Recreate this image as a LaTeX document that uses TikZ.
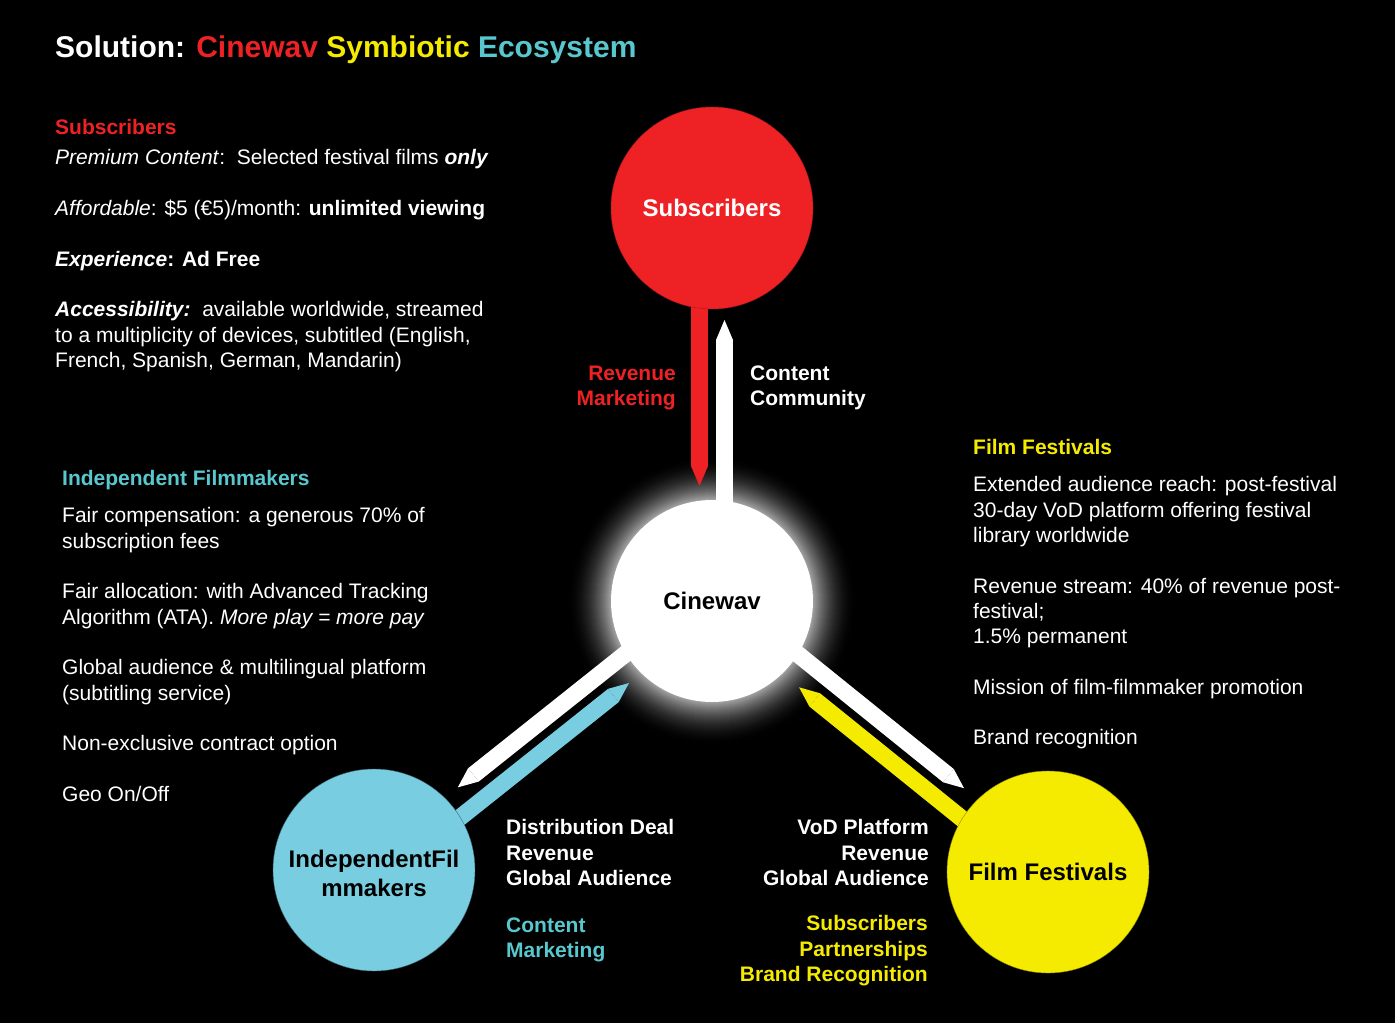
\documentclass[tikz,border=0pt]{standalone}
\usepackage{fontspec}
\setmainfont{Liberation Sans}
\usetikzlibrary{calc,arrows.meta}
\pgfdeclarelayer{backlayer}
\pgfdeclarelayer{barlayer}
\pgfsetlayers{backlayer,barlayer,main}
\definecolor{cinered}{RGB}{238,34,36}
\definecolor{cineyellow}{RGB}{245,235,0}
\definecolor{cinecyan}{RGB}{120,206,224}
\definecolor{cineteal}{RGB}{88,200,206}
\newcommand{\bodyfont}{\fontsize{21}{25.3}\selectfont}
\newcommand{\hubfont}{\fontsize{24}{29}\selectfont\bfseries}
\tikzset{
  hub/.style={circle, minimum size=202pt, inner sep=0pt, font=\hubfont, align=center},
  txt/.style={anchor=north west, inner sep=0pt, align=left, text=white, font=\bodyfont},
  rtxt/.style={txt, anchor=north east, align=right},
  flowbar/.style={line width=17pt, shorten >=115pt, -{Triangle[width=17pt 0,length=20pt 0,line width=0pt]}},
}
\begin{document}
\begin{tikzpicture}[x=1pt,y=-1pt]
\begin{pgfonlayer}{backlayer}
\fill[black] (0,0) rectangle (1395,1023);
\end{pgfonlayer}
\useasboundingbox (0,0) rectangle (1395,1023);

% title
\node[txt, font=\fontsize{30}{36}\selectfont\bfseries] (title) at (55,36)
  {Solution: \textcolor{cinered}{Cinewav} \textcolor{cineyellow}{Symbiotic} \textcolor{cineteal}{Ecosystem}};

% the four circles
\node[hub, fill=cinered, draw=cinered!70!black, text=white] (sub) at (712,208) {Subscribers};
\node[hub, fill=white, text=black] (cine) at (712,601) {Cinewav};
\node[hub, fill=cinecyan, draw=cinecyan!50!black, text=black] (ind) at (374,870) {\rule{0pt}{25pt}IndependentFil\\mmakers};
\node[hub, fill=cineyellow, draw=cineyellow!60!black, text=black] (fest) at (1048,872) {Film Festivals};

% glow round Cinewav
\begin{pgfonlayer}{backlayer}
\foreach \i in {0,...,45}{
  \pgfmathsetmacro{\glowr}{146-\i}
  \pgfmathsetmacro{\glowp}{65*(\i/45)^2}
  \fill[white!\glowp!black] (cine.center) circle (\glowr);
}
\end{pgfonlayer}

% flows
\begin{pgfonlayer}{barlayer}
\draw[flowbar, cinered] ($(sub.center)!12.5pt!-90:(cine.center)$) -- ($(cine.center)!12.5pt!90:(sub.center)$);
\draw[flowbar, white, shorten >=112pt] ($(cine.center)!12.5pt!-90:(sub.center)$) -- ($(sub.center)!12.5pt!90:(cine.center)$);
\draw[flowbar, white, shorten >=117pt] ($(cine.center)!12.5pt!-90:(ind.center)$) -- ($(ind.center)!12.5pt!90:(cine.center)$);
\draw[flowbar, cinecyan, shorten >=116pt] ($(ind.center)!12.5pt!-90:(cine.center)$) -- ($(cine.center)!12.5pt!90:(ind.center)$);
\draw[flowbar, white, shorten >=118pt] ($(cine.center)!12.5pt!90:(fest.center)$) -- ($(fest.center)!12.5pt!-90:(cine.center)$);
\draw[flowbar, cineyellow, shorten >=122pt] ($(fest.center)!12.5pt!90:(cine.center)$) -- ($(cine.center)!12.5pt!-90:(fest.center)$);
\end{pgfonlayer}

% labels on the flows
\node[rtxt, text=cinered, font=\bodyfont\bfseries] (revlbl) at (676,365.5) {Revenue\\Marketing};
\node[txt, font=\bodyfont\bfseries] (contlbl) at (750,365.5) {Content\\Community};
\node[txt, font=\bodyfont\bfseries] (distlbl) at (506,819.5) {Distribution Deal\\Revenue\\Global Audience};
\node[txt, text=cineteal, font=\bodyfont\bfseries] (mktlbl) at (506,917.5) {Content\\Marketing};
\node[rtxt, font=\bodyfont\bfseries] (vodlbl) at (929,819.5) {VoD Platform\\Revenue\\Global Audience};
\node[rtxt, text=cineyellow, font=\bodyfont\bfseries] (brandlbl) at (928,915.5) {Subscribers\\Partnerships\\Brand Recognition};

% subscribers notes
\node[txt, text=cinered, font=\bodyfont\bfseries] (subhead) at (55,119.5) {Subscribers};
\node[txt] (subnotes) at (55,149.5) {\textit{Premium Content}:\ \ Selected festival films \textbf{\textit{only}}\\[25.3pt]
  \textit{Affordable}: \$5 (€5)/month: \textbf{unlimited viewing}\\[25.3pt]
  \textbf{\textit{Experience}: Ad Free}\\[25.3pt]
  \textbf{\textit{Accessibility:}}\ \ available worldwide, streamed\\
  to a multiplicity of devices, subtitled (English,\\
  French, Spanish, German, Mandarin)};

% filmmaker notes
\node[txt, text=cineteal, font=\bodyfont\bfseries] (indhead) at (62,470.5) {Independent Filmmakers};
\node[txt] (indnotes) at (62,507.5) {Fair compensation: a generous 70\% of\\
  subscription fees\\[25.3pt]
  Fair allocation: with Advanced Tracking\\
  Algorithm (ATA). \textit{More play = more pay}\\[25.3pt]
  Global audience \& multilingual platform\\
  (subtitling service)\\[25.3pt]
  Non-exclusive contract option\\[25.3pt]
  Geo On/Off};

% festival notes
\node[txt, text=cineyellow, font=\bodyfont\bfseries] (festhead) at (973,439.5) {Film Festivals};
\node[txt] (festnotes) at (973,476.5) {Extended audience reach: post-festival\\
  30-day VoD platform offering festival\\
  library worldwide\\[25.3pt]
  Revenue stream: 40\% of revenue post-\\
  festival;\\
  1.5\% permanent\\[25.3pt]
  Mission of film-filmmaker promotion\\[25.3pt]
  Brand recognition};
\end{tikzpicture}
\end{document}
